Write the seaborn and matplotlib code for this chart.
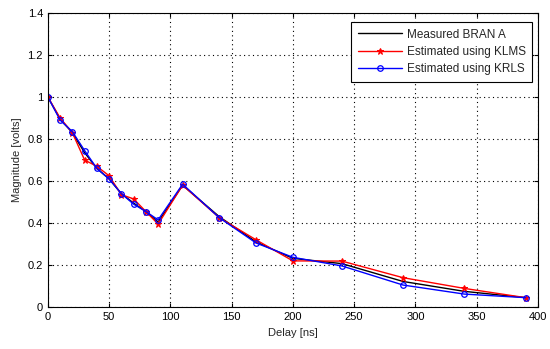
import numpy as np
import pandas as pd
import matplotlib
matplotlib.use("Agg")
import matplotlib.pyplot as plt
import seaborn as sns

delay = [0, 10, 20, 30, 40, 50, 60, 70, 80, 90, 110, 140, 170, 200, 240, 290, 340, 390]
measured = [1.0, 0.895, 0.83, 0.735, 0.66, 0.61, 0.54, 0.495, 0.455, 0.405, 0.58, 0.43, 0.31, 0.232, 0.207, 0.122, 0.075, 0.045]
klms = [1.0, 0.90, 0.83, 0.70, 0.67, 0.625, 0.535, 0.515, 0.455, 0.395, 0.58, 0.425, 0.32, 0.22, 0.219, 0.14, 0.089, 0.045]
krls = [1.0, 0.89, 0.835, 0.745, 0.66, 0.61, 0.54, 0.49, 0.455, 0.415, 0.585, 0.425, 0.305, 0.237, 0.196, 0.105, 0.062, 0.045]

sns.set_style("white")
plt.rcParams['font.family'] = ['Liberation Sans', 'DejaVu Sans']

fig = plt.figure(figsize=(5.5, 3.49), dpi=100)
ax = fig.add_axes([0.087, 0.12, 0.891, 0.843])

sns.lineplot(x=delay, y=measured, ax=ax, color='black', linewidth=1, label='Measured BRAN A')
sns.lineplot(x=delay, y=klms, ax=ax, color='red', linewidth=1, marker='*', markersize=5,
             markeredgecolor='red', label='Estimated using KLMS')
sns.lineplot(x=delay, y=krls, ax=ax, color='blue', linewidth=1, marker='o', markersize=4,
             markerfacecolor='none', markeredgecolor='blue', markeredgewidth=0.9, label='Estimated using KRLS')

ax.set_xlim(0, 400)
ax.set_ylim(0, 1.4)
ax.set_xticks(np.arange(0, 401, 50))
ax.set_yticks(np.arange(0, 1.41, 0.2))
ax.set_yticklabels(['0', '0.2', '0.4', '0.6', '0.8', '1', '1.2', '1.4'])
ax.grid(True, linestyle=(0, (1, 3)), color='black', linewidth=0.8)
for s in ax.spines.values():
    s.set_color('black')
    s.set_linewidth(0.8)
ax.tick_params(axis='both', direction='in', length=3, labelsize=8, colors='black', top=True, right=True,
               bottom=True, left=True)
ax.set_xlabel('Delay [ns]', fontsize=8)
ax.set_ylabel('Magnitude [volts]', fontsize=8)

leg = ax.legend(loc='upper right', bbox_to_anchor=(0.988, 0.969), borderaxespad=0, fontsize=8.5,
                fancybox=False, framealpha=1, edgecolor='black', handlelength=3.8,
                handletextpad=0.35, labelspacing=0.45, borderpad=0.55)
leg.get_frame().set_linewidth(0.8)

fig.savefig('out.png', dpi=100)
